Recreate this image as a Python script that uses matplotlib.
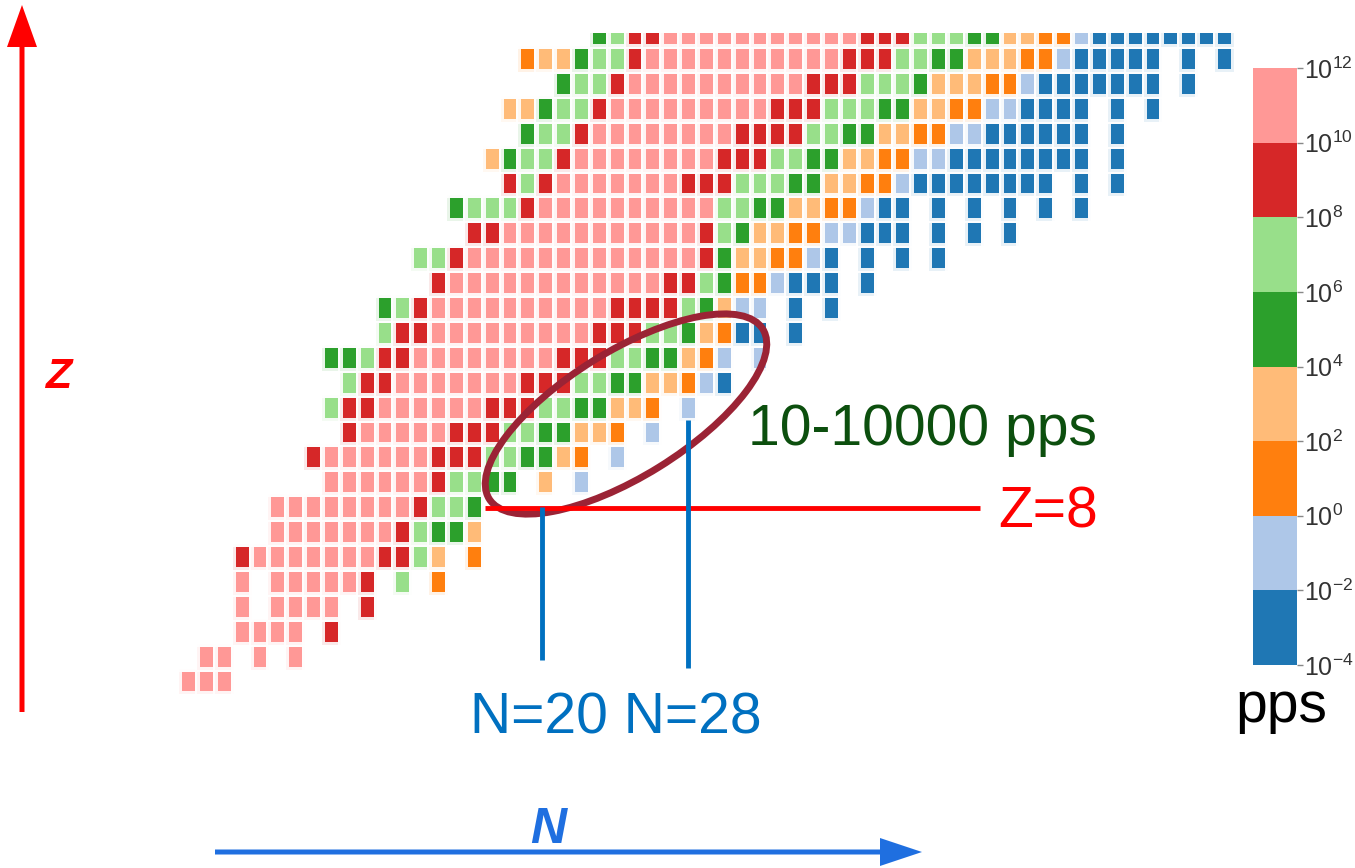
import numpy as np
import matplotlib
matplotlib.use("Agg")
import matplotlib.pyplot as plt
from matplotlib.colors import ListedColormap, BoundaryNorm
from matplotlib.patches import Ellipse, FancyArrow

plt.rcParams['font.family'] = ['Liberation Sans', 'DejaVu Sans']
plt.rcParams['mathtext.fontset'] = 'custom'
plt.rcParams['mathtext.rm'] = 'Liberation Sans'
plt.rcParams['mathtext.it'] = 'Liberation Sans:italic'
plt.rcParams['mathtext.bf'] = 'Liberation Sans:bold'

# ---------------- data ----------------
# rate bins (pps) and their colours
bin_edges_exp = [-4, -2, 0, 2, 4, 6, 8, 10, 12]
bin_colors = ['#1f77b4', '#aec7e8', '#ff7f0e', '#ffbb78',
              '#2ca02c', '#98df8a', '#d62728', '#ff9896']
# representative rate (pps) for each colour code
code_pps = {'B': 1e-3, 'b': 1e-1, 'O': 1e1, 'o': 1e3,
            'G': 1e5, 'g': 1e7, 'R': 1e9, 'p': 1e11}

Z_values = list(range(1, 28))
N_start = [0, 1, 3, 3, 3, 3, 5, 5, 8, 7, 9, 8, 9, 8, 11, 11, 14, 13,
           16, 15, 18, 17, 19, 18, 21, 19, 23]
row_codes = [
    "ppp",                                                  # Z=1
    "pp.p.p",                                               # Z=2
    "pppp.R",                                               # Z=3
    "p.pppp.R",                                             # Z=4
    "p.pppppR.g.O",                                         # Z=5
    "RpppppppRRgo.O",                                       # Z=6
    "pppppppRgGGo",                                         # Z=7
    "ppppppppRggG",                                         # Z=8
    "ppppppRggGG.o.b",                                      # Z=9
    "RppppppRRRggGGoO.b",                                   # Z=10
    "RpppppRRRggGGooO.b",                                   # Z=11
    "gRRppppppRRRggGGooO.b",                                # Z=12
    "gRRpppppppRRRggGGooObB",                               # Z=13
    "GGgRRppppppppRRRggGGoOb.b",                            # Z=14
    "gRRpppppppppRRRggGoOBB.B",                             # Z=15
    "GgRppppppppppRRRRgGobb.B.B",                           # Z=16
    "RppppppppppppRRgGOObBBB.B",                            # Z=17
    "ggRpppppppppppppRGooOObB.B.B.B",                       # Z=18
    "RRpppppppppppRgGooOObbBBB.B.B.B",                      # Z=19
    "GgggRppppppppppggGGooOObBB.B.B.B.B.B",                 # Z=20
    "RgRpppppppRRRgggGGooOObBBBBBBBB.B.B",                  # Z=21
    "oGggRppppppppRRRggGGooOObbBBBBBBBB.B",                 # Z=22
    "GggRppppppppRRRRggGGooOObbBBBBBB.B",                   # Z=23
    "ooGggRpppppppppRRRgggGGooOObbBBBB.B.B",                # Z=24
    "GggRppppppppppRRRgggGoooOObBBBBBBB.B",                 # Z=25
    "OooGggRpppppppppppRRRggGGoooOObBBBBB.B.B",             # Z=26
    "GgRRpppppppppppRRRgggGGooOObBBBBBBBB",                 # Z=27
]

# ---------------- build the grid ----------------
N_max = max(s + len(r) for s, r in zip(N_start, row_codes))
grid = np.full((len(Z_values), N_max), np.nan)
for i, (s, codes) in enumerate(zip(N_start, row_codes)):
    for j, c in enumerate(codes):
        if c in code_pps:
            grid[i, s + j] = code_pps[c]
grid = np.ma.masked_invalid(grid)

W, H = 1355, 868
fig = plt.figure(figsize=(W / 100, H / 100), dpi=100)

# pixel mapping of the grid: N -> x = 188 + 17.86 N ; Z -> y = 681 - 24.9 (Z-1)
px_N, x0 = 17.86, 188.0
px_Z, y0 = 24.9, 681.0
top_clip = 33.0
ax = fig.add_axes([0, 0, 1, (H - top_clip) / H])
ax.set_xlim(-x0 / px_N, (W - x0) / px_N)
ax.set_ylim(1 + (y0 - H) / px_Z, 1 + (y0 - top_clip) / px_Z)
ax.axis('off')

cmap = ListedColormap(bin_colors)
bounds = [10.0 ** e for e in bin_edges_exp]
norm = BoundaryNorm(bounds, cmap.N)
xe = np.arange(N_max + 1) - 0.5
ye = np.array(Z_values + [Z_values[-1] + 1]) - 0.5
# soft halo layer
ax.pcolormesh(xe, ye, grid, cmap=cmap, norm=norm, alpha=0.22,
              edgecolors='none')
mesh = ax.pcolormesh(xe, ye, grid, cmap=cmap, norm=norm,
                     edgecolors=(1, 1, 1, 0.9), linewidth=2.3)

# ---------------- colour bar ----------------
cax = fig.add_axes([1253 / W, (H - 665) / H, 44 / W, 597 / H])
cb = fig.colorbar(mesh, cax=cax, ticks=bounds)
cb.set_ticklabels([r'$10^{%d}$' % e for e in bin_edges_exp])
cb.outline.set_visible(False)
cax.tick_params(length=4, width=1, color='#888888', labelsize=18,
                labelcolor='#333333', pad=1)

# ---------------- annotations in pixel coordinates ----------------
ov = fig.add_axes([0, 0, 1, 1])
ov.set_xlim(0, W)
ov.set_ylim(H, 0)
ov.axis('off')
ov.patch.set_alpha(0)

# Z axis arrow
ov.add_patch(FancyArrow(22, 712, 0, -707, width=5, head_width=30,
                        head_length=42, length_includes_head=True,
                        color='#ff0000', lw=0))
ov.text(58, 388, 'Z', color='#ff0000', fontsize=31, fontweight='bold',
        fontstyle='italic', ha='center', va='baseline')
# N axis arrow
ov.add_patch(FancyArrow(215, 852, 707, 0, width=5, head_width=28,
                        head_length=42, length_includes_head=True,
                        color='#1f6fe0', lw=0))
ov.text(548, 843, 'N', color='#1f6fe0', fontsize=36, fontweight='bold',
        fontstyle='italic', ha='center', va='baseline')

# Z=8 line and N=20 / N=28 lines
ov.plot([485, 980], [508, 508], color='#ff0000', lw=3.5, solid_capstyle='butt')
ov.plot([542, 542], [507, 660], color='#0070c0', lw=3.5, solid_capstyle='butt')
ov.plot([688, 688], [420, 668], color='#0070c0', lw=3.5, solid_capstyle='butt')

# ellipse
ov.add_patch(Ellipse((626, 414), 322, 125, angle=-31.8, fill=False,
                     edgecolor='#9b2335', lw=5))

ov.text(748, 445, '10-10000 pps', color='#0c4f0e', fontsize=41,
        ha='left', va='baseline')
ov.text(998, 528, 'Z=8', color='#ff0000', fontsize=41,
        ha='left', va='baseline')
ov.text(470, 734, 'N=20 N=28', color='#0070c0', fontsize=41,
        ha='left', va='baseline')
ov.text(1235, 722, 'pps', color='black', fontsize=41,
        ha='left', va='baseline')

fig.savefig('out.png', dpi=100)
